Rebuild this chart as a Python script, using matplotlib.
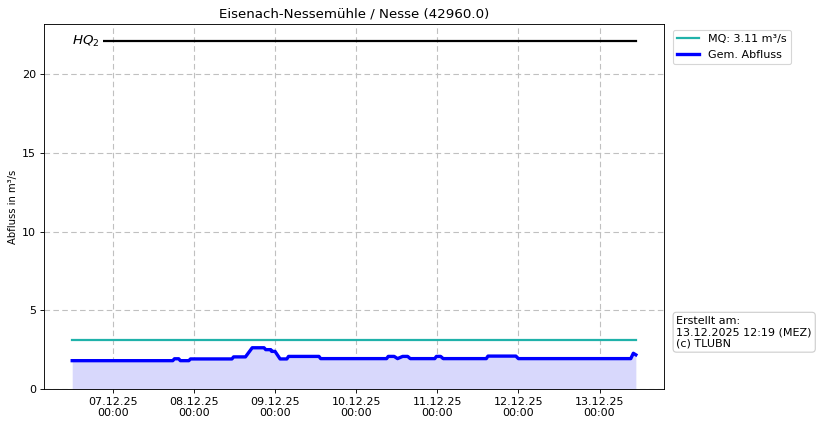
"""Pegel Eisenach-Nessemühle / Nesse: Abflussganglinie."""

import matplotlib
matplotlib.use("Agg")
import matplotlib.pyplot as plt
import matplotlib.dates as mdates
import pandas as pd

# Stuetzstellen der Ganglinie (Zeitpunkt, Abfluss in m³/s)
times = [
    "2025-12-06 12:00", "2025-12-07 17:45", "2025-12-07 18:15", "2025-12-07 19:30",
    "2025-12-07 20:00", "2025-12-07 22:30", "2025-12-07 23:00", "2025-12-08 11:15",
    "2025-12-08 11:45", "2025-12-08 15:15", "2025-12-08 17:15", "2025-12-08 20:45",
    "2025-12-08 21:15", "2025-12-08 22:45", "2025-12-08 23:00", "2025-12-09 00:00",
    "2025-12-09 01:30", "2025-12-09 03:30", "2025-12-09 04:00", "2025-12-09 13:00",
    "2025-12-09 13:30", "2025-12-10 09:00", "2025-12-10 09:30", "2025-12-10 11:15",
    "2025-12-10 12:15", "2025-12-10 13:45", "2025-12-10 15:15", "2025-12-10 16:00",
    "2025-12-10 23:15", "2025-12-10 23:45", "2025-12-11 01:00", "2025-12-11 01:45",
    "2025-12-11 14:30", "2025-12-11 15:00", "2025-12-11 23:15", "2025-12-12 00:00",
    "2025-12-13 09:15", "2025-12-13 10:00", "2025-12-13 10:45",
]
flow = [
    1.80, 1.80, 1.92, 1.92,
    1.80, 1.80, 1.91, 1.91,
    2.04, 2.04, 2.62, 2.62,
    2.50, 2.50, 2.39, 2.39,
    1.91, 1.91, 2.07, 2.07,
    1.93, 1.93, 2.07, 2.07,
    1.93, 2.07, 2.07, 1.93,
    1.93, 2.07, 2.07, 1.93,
    1.93, 2.09, 2.09, 1.93,
    1.93, 2.27, 2.17,
]
mq = 3.11
hq2 = 22.1

t = pd.to_datetime(times)

fig = plt.figure(figsize=(10.25, 5.325), dpi=80)
ax = fig.add_axes([0.0537, 0.0869, 0.7561, 0.8568])

ax.fill_between(t, 0, flow, color="#d8d8fc", linewidth=0)
ax.plot(t, [mq] * len(t), color="#20b2aa", linewidth=2, label=f"MQ: {mq} m³/s")
ax.plot(t, flow, color="blue", linewidth=3, label="Gem. Abfluss")
ax.plot([t[0], t[-1]], [hq2, hq2], color="black", linewidth=2)
ax.text(t[0], hq2, "$HQ_2$", fontsize=12, ha="left", va="center",
        bbox=dict(facecolor="white", edgecolor="none", pad=2.5))

ax.set_ylim(0, 23.2)
ax.set_title("Eisenach-Nessemühle / Nesse (42960.0)", fontsize=12)
ax.set_ylabel("Abfluss in m³/s", fontsize=9)
ax.xaxis.set_major_locator(mdates.DayLocator())
ax.xaxis.set_major_formatter(mdates.DateFormatter("%d.%m.%y\n%H:%M"))
ax.tick_params(labelsize=10)
ax.grid(True, linestyle=(0, (5, 3)), color="#c0c0c0", linewidth=1)
ax.set_axisbelow(True)

ax.legend(loc="upper left", bbox_to_anchor=(1.005, 1.0), fontsize=10)
ax.text(1.02, 0.11, "Erstellt am:\n13.12.2025 12:19 (MEZ)\n(c) TLUBN",
        transform=ax.transAxes, fontsize=10, ha="left", va="bottom",
        bbox=dict(boxstyle="round,pad=0.3", facecolor="white", edgecolor="#cccccc"))

fig.savefig("out.png", dpi=80, facecolor="white")
